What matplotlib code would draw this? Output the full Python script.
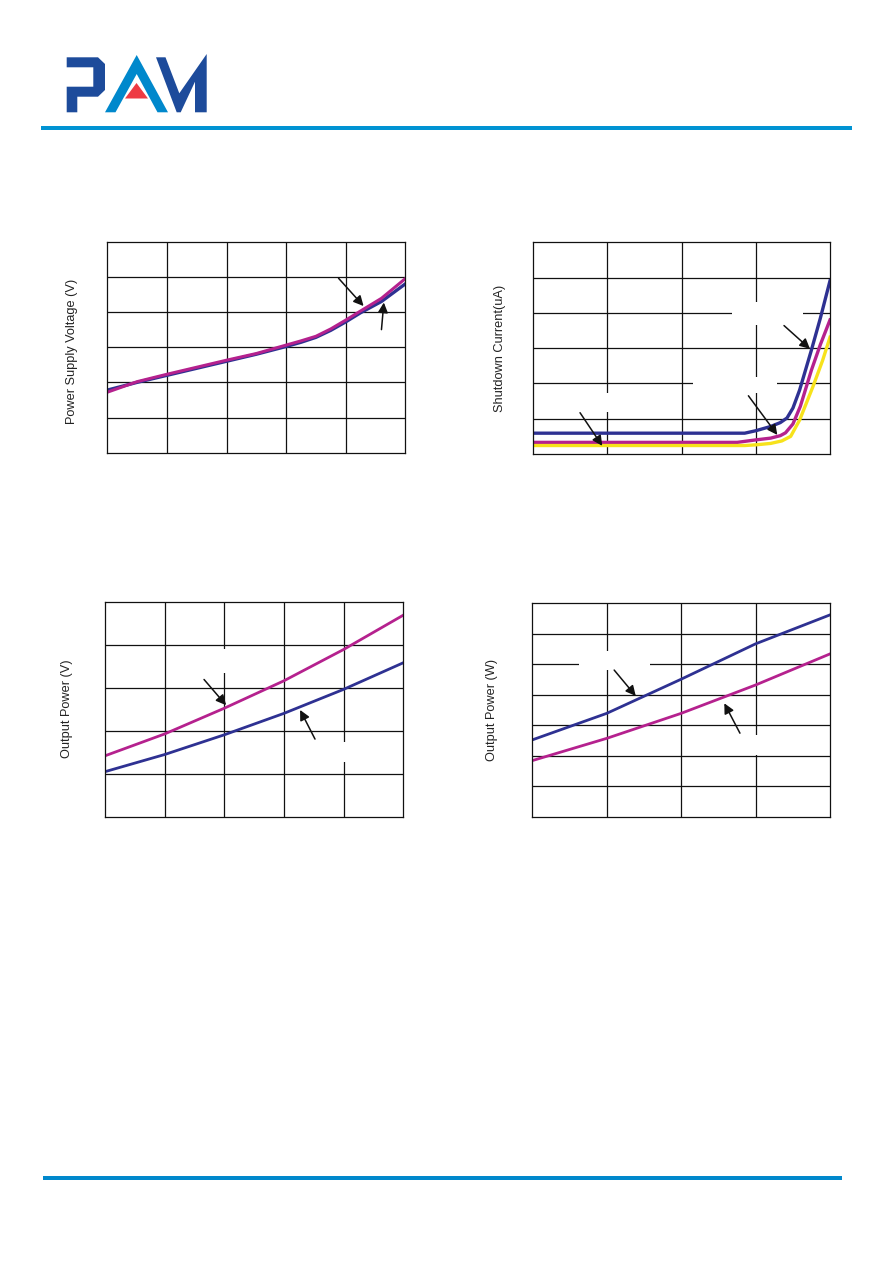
import matplotlib
matplotlib.use('Agg')
import matplotlib.pyplot as plt
from matplotlib.patches import Polygon, Rectangle

plt.rcParams['font.family'] = ['Liberation Sans', 'DejaVu Sans']

W, H = 894, 1263
BLUE = '#2E3192'
PURPLE = '#B5218E'
YELLOW = '#F7E21B'

# chart 1: power supply voltage
c1_x = [0, 0.5, 1, 1.5, 2, 2.5, 3, 3.25, 3.5, 3.75, 4, 4.25, 4.6, 5]
c1_purple = [1.72, 2.02, 2.23, 2.43, 2.63, 2.82, 3.06, 3.18, 3.31, 3.52, 3.77, 4.03, 4.39, 4.95]
c1_blue = [1.78, 2.0, 2.2, 2.4, 2.6, 2.8, 3.02, 3.14, 3.28, 3.48, 3.72, 3.98, 4.3, 4.8]

# chart 2: shutdown current
c2_blue_x = [0, 2.85, 3.0, 3.2, 3.33, 3.42, 3.5, 3.59, 3.75, 3.87, 4.0]
c2_blue = [0.59, 0.59, 0.66, 0.78, 0.89, 1.02, 1.3, 1.81, 2.95, 3.85, 4.91]
c2_purple_x = [0, 2.75, 3.0, 3.2, 3.33, 3.4, 3.5, 3.6, 3.75, 3.87, 4.0]
c2_purple = [0.33, 0.33, 0.40, 0.45, 0.52, 0.6, 0.85, 1.35, 2.38, 3.1, 3.8]
c2_yellow_x = [0, 2.85, 3.0, 3.2, 3.35, 3.47, 3.59, 3.77, 3.9, 4.0]
c2_yellow = [0.24, 0.24, 0.26, 0.3, 0.37, 0.5, 0.96, 1.91, 2.65, 3.31]

# chart 3: output power (V)
c3_x = [0, 1, 2, 3, 4, 5]
c3_purple = [1.42, 1.93, 2.53, 3.17, 3.9, 4.7]
c3_blue = [1.05, 1.45, 1.91, 2.41, 2.97, 3.59]

# chart 4: output power (W)
c4_x = [0, 1, 2, 3, 4]
c4_blue = [2.52, 3.39, 4.51, 5.67, 6.62]
c4_purple = [1.84, 2.57, 3.39, 4.32, 5.34]

fig = plt.figure(figsize=(W / 100, H / 100), dpi=100)


def make_axes(l, t, r, b, ncol, nrow):
    ax = fig.add_axes([l / W, 1 - b / H, (r - l) / W, (b - t) / H])
    ax.set_xlim(0, ncol)
    ax.set_ylim(0, nrow)
    ax.set_xticks([])
    ax.set_yticks([])
    for s in ax.spines.values():
        s.set_linewidth(0.9)
        s.set_color('#111111')
        s.set_zorder(5)
    for i in range(1, ncol):
        ax.axvline(i, color='#111111', lw=0.9, zorder=1)
    for j in range(1, nrow):
        ax.axhline(j, color='#111111', lw=0.9, zorder=1)
    return ax


def blank(ax, x0, x1, y0, y1):
    # white label boxes that cut the grid
    ax.add_patch(Rectangle((x0, y0), x1 - x0, y1 - y0, facecolor='white',
                           edgecolor='none', zorder=2))


def arrow(ax, tail, head):
    ax.annotate('', xy=head, xytext=tail,
                arrowprops=dict(arrowstyle='-|>', color='#111111', lw=1.1,
                                mutation_scale=15, shrinkA=0, shrinkB=0),
                zorder=4)


# chart 1
ax1 = make_axes(107.3, 241.7, 405.3, 452.7, 5, 6)
ax1.plot(c1_x, c1_blue, color=BLUE, lw=2.4, zorder=3)
ax1.plot(c1_x, c1_purple, color=PURPLE, lw=2.2, zorder=3)
arrow(ax1, (3.88, 4.96), (4.3, 4.17))
arrow(ax1, (4.6, 3.5), (4.64, 4.27))

# chart 2
ax2 = make_axes(533.3, 242.3, 830, 454, 4, 6)
blank(ax2, 2.68, 3.63, 3.65, 4.31)
blank(ax2, 2.15, 3.28, 1.73, 2.18)
blank(ax2, 0.55, 1.35, 1.19, 1.73)
ax2.plot(c2_blue_x, c2_blue, color=BLUE, lw=2.4, zorder=3)
ax2.plot(c2_purple_x, c2_purple, color=PURPLE, lw=2.4, zorder=3)
ax2.plot(c2_yellow_x, c2_yellow, color=YELLOW, lw=2.4, zorder=3)
arrow(ax2, (0.63, 1.17), (0.93, 0.23))
arrow(ax2, (2.9, 1.65), (3.29, 0.54))
arrow(ax2, (3.38, 3.64), (3.73, 2.98))

# chart 3
ax3 = make_axes(105, 602.3, 403.3, 816.7, 5, 5)
blank(ax3, 1.6, 2.6, 3.35, 3.92)
blank(ax3, 3.6, 4.5, 1.28, 1.74)
ax3.plot(c3_x, c3_purple, color=PURPLE, lw=2.0, zorder=3)
ax3.plot(c3_x, c3_blue, color=BLUE, lw=2.0, zorder=3)
arrow(ax3, (1.66, 3.2), (2.03, 2.6))
arrow(ax3, (3.52, 1.81), (3.27, 2.49))

# chart 4
ax4 = make_axes(532.3, 603.3, 830, 816.7, 4, 7)
blank(ax4, 0.63, 1.58, 4.81, 5.43)
blank(ax4, 2.8, 3.5, 2.03, 2.68)
ax4.plot(c4_x, c4_blue, color=BLUE, lw=2.0, zorder=3)
ax4.plot(c4_x, c4_purple, color=PURPLE, lw=2.0, zorder=3)
arrow(ax4, (1.1, 4.81), (1.39, 3.96))
arrow(ax4, (2.79, 2.74), (2.58, 3.72))

# y labels
lab = dict(rotation=90, ha='center', va='center', fontsize=9.2, color='#222222')
fig.text(72 / W, 1 - 351 / H, 'Power Supply Voltage (V)', **lab)
fig.text(500 / W, 1 - 348 / H, 'Shutdown Current(uA)', **lab)
fig.text(66.7 / W, 1 - 709 / H, 'Output Power (V)', **lab)
fig.text(492 / W, 1 - 710 / H, 'Output Power (W)', **lab)

# page decoration: logo and rules
deco = fig.add_axes([0, 0, 1, 1], zorder=-1)
deco.set_xlim(0, W)
deco.set_ylim(H, 0)
deco.axis('off')
deco.add_patch(Rectangle((41, 126), 811, 4, color='#0093D3', lw=0))
deco.add_patch(Rectangle((43, 1176), 799, 4, color='#0088CC', lw=0))
p_shape = [(66.7, 57.3), (98, 57.3), (105, 64), (105, 90), (98, 96.7),
           (77.3, 96.7), (77.3, 112.3), (66.7, 112.3), (66.7, 86.7),
           (93.3, 86.7), (93.3, 67.3), (66.7, 67.3)]
a_shape = [(105, 112.3), (136.7, 55), (168, 112.3), (157.5, 112.3),
           (136.7, 74), (115.5, 112.3)]
tri = [(136.5, 83), (125, 98.5), (148, 98.5)]
m_shape = [(156, 57.3), (165.5, 57.3), (179.3, 93.3), (206.7, 54),
           (206.7, 112.3), (195, 112.3), (195, 81.7), (180.7, 112.3),
           (176.7, 112.3)]
deco.add_patch(Polygon(p_shape, closed=True, color='#1D4B9B', lw=0))
deco.add_patch(Polygon(a_shape, closed=True, color='#0088CC', lw=0))
deco.add_patch(Polygon(tri, closed=True, color='#EE3A43', lw=0))
deco.add_patch(Polygon(m_shape, closed=True, color='#1D4B9B', lw=0))

fig.savefig('out.png', dpi=100)
